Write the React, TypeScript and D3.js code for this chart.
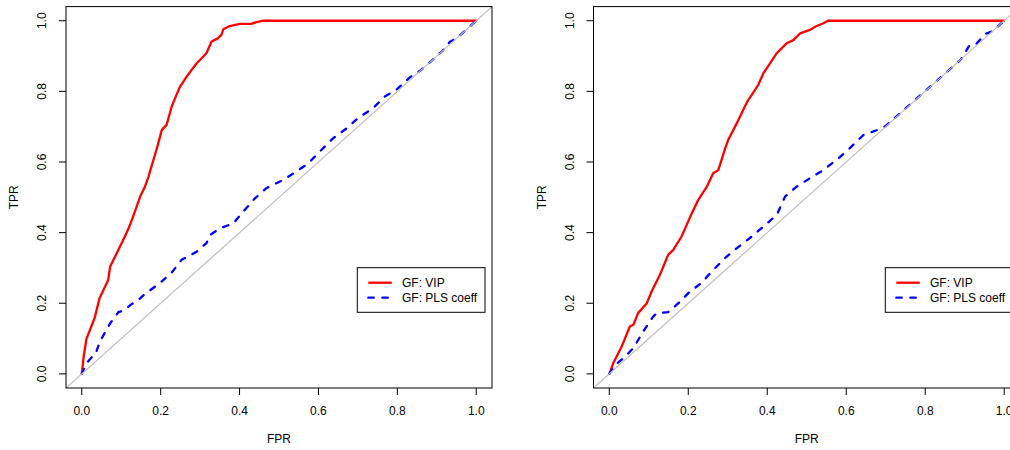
import React from "react";
import * as d3 from "d3";

const ticks = [0, 0.2, 0.4, 0.6, 0.8, 1.0];
const tickLabels = ["0.0", "0.2", "0.4", "0.6", "0.8", "1.0"];
const legendLabels = ["GF: VIP", "GF: PLS coeff"];

// Left panel
const leftVipFpr = [0, 0.005, 0.012, 0.021, 0.033, 0.045, 0.056, 0.067, 0.072, 0.088, 0.105, 0.118, 0.127, 0.138, 0.148, 0.16, 0.169, 0.18, 0.19, 0.203, 0.215, 0.228, 0.24, 0.249, 0.265, 0.278, 0.291, 0.305, 0.316, 0.329, 0.345, 0.354, 0.359, 0.375, 0.401, 0.43, 0.443, 0.46, 0.5, 0.6, 0.8, 1.0];
const leftVipTpr = [0, 0.05, 0.1, 0.125, 0.16, 0.214, 0.24, 0.266, 0.304, 0.34, 0.379, 0.41, 0.436, 0.47, 0.502, 0.53, 0.558, 0.6, 0.637, 0.691, 0.705, 0.757, 0.79, 0.813, 0.84, 0.86, 0.879, 0.895, 0.908, 0.941, 0.95, 0.96, 0.976, 0.985, 0.991, 0.991, 0.996, 1.0, 1.0, 1.0, 1.0, 1.0];
const leftPlsFpr = [0, 0.012, 0.025, 0.034, 0.046, 0.06, 0.072, 0.093, 0.105, 0.127, 0.139, 0.16, 0.198, 0.228, 0.253, 0.291, 0.316, 0.325, 0.35, 0.384, 0.413, 0.439, 0.468, 0.51, 0.544, 0.574, 0.603, 0.637, 0.671, 0.7, 0.738, 0.768, 0.8, 0.831, 0.86, 0.915, 0.933, 0.95, 1.0];
const leftPlsTpr = [0, 0.03, 0.047, 0.054, 0.091, 0.12, 0.143, 0.175, 0.179, 0.198, 0.205, 0.226, 0.257, 0.287, 0.323, 0.346, 0.37, 0.393, 0.412, 0.426, 0.464, 0.497, 0.526, 0.549, 0.573, 0.596, 0.629, 0.667, 0.695, 0.724, 0.752, 0.785, 0.807, 0.839, 0.86, 0.915, 0.94, 0.95, 1.0];

// Right panel
const rightVipFpr = [0, 0.01, 0.031, 0.035, 0.052, 0.061, 0.073, 0.095, 0.107, 0.128, 0.149, 0.162, 0.183, 0.196, 0.209, 0.225, 0.247, 0.263, 0.276, 0.293, 0.301, 0.323, 0.339, 0.352, 0.361, 0.377, 0.39, 0.407, 0.424, 0.449, 0.466, 0.483, 0.508, 0.521, 0.542, 0.554, 0.6, 0.8, 1.0];
const rightVipTpr = [0, 0.03, 0.077, 0.087, 0.134, 0.139, 0.172, 0.2, 0.233, 0.28, 0.337, 0.351, 0.389, 0.422, 0.455, 0.492, 0.53, 0.568, 0.577, 0.637, 0.662, 0.71, 0.747, 0.776, 0.79, 0.818, 0.851, 0.879, 0.908, 0.936, 0.945, 0.964, 0.974, 0.983, 0.993, 1.0, 1.0, 1.0, 1.0];
const rightPlsFpr = [0, 0.015, 0.031, 0.04, 0.061, 0.086, 0.111, 0.12, 0.149, 0.175, 0.204, 0.238, 0.247, 0.272, 0.297, 0.323, 0.361, 0.39, 0.424, 0.445, 0.474, 0.508, 0.542, 0.584, 0.609, 0.643, 0.685, 0.7, 0.8, 0.89, 0.913, 0.93, 0.951, 0.97, 1.0];
const rightPlsTpr = [0, 0.025, 0.04, 0.049, 0.073, 0.12, 0.162, 0.172, 0.175, 0.2, 0.233, 0.261, 0.275, 0.304, 0.332, 0.356, 0.389, 0.417, 0.45, 0.502, 0.53, 0.554, 0.577, 0.614, 0.639, 0.676, 0.693, 0.702, 0.801, 0.89, 0.932, 0.935, 0.962, 0.97, 1.0];

const FONT = "'Liberation Sans', Arial, Helvetica, sans-serif";

type PanelProps = {
  id: string;
  left: number;
  right: number;
  vipF: number[];
  vipT: number[];
  plsF: number[];
  plsT: number[];
  legendX: number;
};

function Panel({ id, left, right, vipF, vipT, plsF, plsT, legendX }: PanelProps) {
  const top = 6.6;
  const bottom = 388;
  const x = d3.scaleLinear().domain([-0.04, 1.04]).range([left, right]);
  const y = d3.scaleLinear().domain([-0.04, 1.04]).range([bottom, top]);
  const line = d3
    .line<[number, number]>()
    .x((d) => x(d[0]))
    .y((d) => y(d[1]));
  const vip = line(vipF.map((f, i) => [f, vipT[i]] as [number, number])) || "";
  const pls = line(plsF.map((f, i) => [f, plsT[i]] as [number, number])) || "";
  const diag = line([[-0.04, -0.04], [1.04, 1.04]]) || "";
  const midX = (left + right) / 2;
  const midY = (top + bottom) / 2;
  const ly = 267.7;
  return (
    <g>
      <defs>
        <clipPath id={"clip-" + id}>
          <rect x={left} y={top} width={right - left} height={bottom - top} />
        </clipPath>
      </defs>
      <g clipPath={`url(#clip-${id})`}>
        <path d={vip} stroke="#ff0000" strokeWidth={2.3} fill="none" strokeLinejoin="round" strokeLinecap="round" />
        <path d={pls} stroke="#0000ff" strokeWidth={2.3} fill="none" strokeDasharray="5.5 8.5" strokeLinecap="round" />
        <path d={diag} stroke="#bebebe" strokeWidth={1.2} fill="none" />
      </g>
      <rect x={left} y={top} width={right - left} height={bottom - top} fill="none" stroke="#000" strokeWidth={1} />
      {ticks.map((t, i) => (
        <g key={"xt" + i}>
          <line x1={x(t)} x2={x(t)} y1={bottom} y2={bottom + 7} stroke="#000" />
          <text x={x(t)} y={410.7} fontSize={12} fontFamily={FONT} textAnchor="middle" dominantBaseline="central" fill="#000">
            {tickLabels[i]}
          </text>
        </g>
      ))}
      {ticks.map((t, i) => (
        <g key={"yt" + i}>
          <line x1={left - 7} x2={left} y1={y(t)} y2={y(t)} stroke="#000" />
          <text
            x={0}
            y={0}
            transform={`translate(${left - 24},${y(t)}) rotate(-90)`}
            fontSize={12}
            fontFamily={FONT}
            textAnchor="middle"
            dominantBaseline="central"
            fill="#000"
          >
            {tickLabels[i]}
          </text>
        </g>
      ))}
      <text x={midX} y={439} fontSize={12} fontFamily={FONT} textAnchor="middle" dominantBaseline="central" fill="#000">
        FPR
      </text>
      <text
        transform={`translate(${left - 52},${midY}) rotate(-90)`}
        fontSize={12}
        fontFamily={FONT}
        textAnchor="middle"
        dominantBaseline="central"
        fill="#000"
      >
        TPR
      </text>
      <g>
        <rect x={legendX} y={ly} width={127.7} height={44.6} fill="#fff" stroke="#000" strokeWidth={1} />
        <line x1={legendX + 11} x2={legendX + 34.5} y1={ly + 15} y2={ly + 15} stroke="#ff0000" strokeWidth={2.3} />
        <line x1={legendX + 11} x2={legendX + 34.5} y1={ly + 30} y2={ly + 30} stroke="#0000ff" strokeWidth={2.3} strokeDasharray="5.5 8.5" strokeLinecap="round" />
        <text x={legendX + 44.7} y={ly + 15} fontSize={12} fontFamily={FONT} dominantBaseline="central" fill="#000">
          {legendLabels[0]}
        </text>
        <text x={legendX + 44.7} y={ly + 30} fontSize={12} fontFamily={FONT} dominantBaseline="central" fill="#000">
          {legendLabels[1]}
        </text>
      </g>
    </g>
  );
}

export default function App() {
  return (
    <svg
      width={1010}
      height={450}
      style={{ position: "absolute", left: 0, top: 0, background: "#fff" }}
    >
      <rect x={0} y={0} width={1010} height={450} fill="#fff" />
      <Panel id="l" left={66} right={492} vipF={leftVipFpr} vipT={leftVipTpr} plsF={leftPlsFpr} plsT={leftPlsTpr} legendX={357.3} />
      <Panel id="r" left={593.5} right={1020} vipF={rightVipFpr} vipT={rightVipTpr} plsF={rightPlsFpr} plsT={rightPlsTpr} legendX={885.3} />
    </svg>
  );
}
